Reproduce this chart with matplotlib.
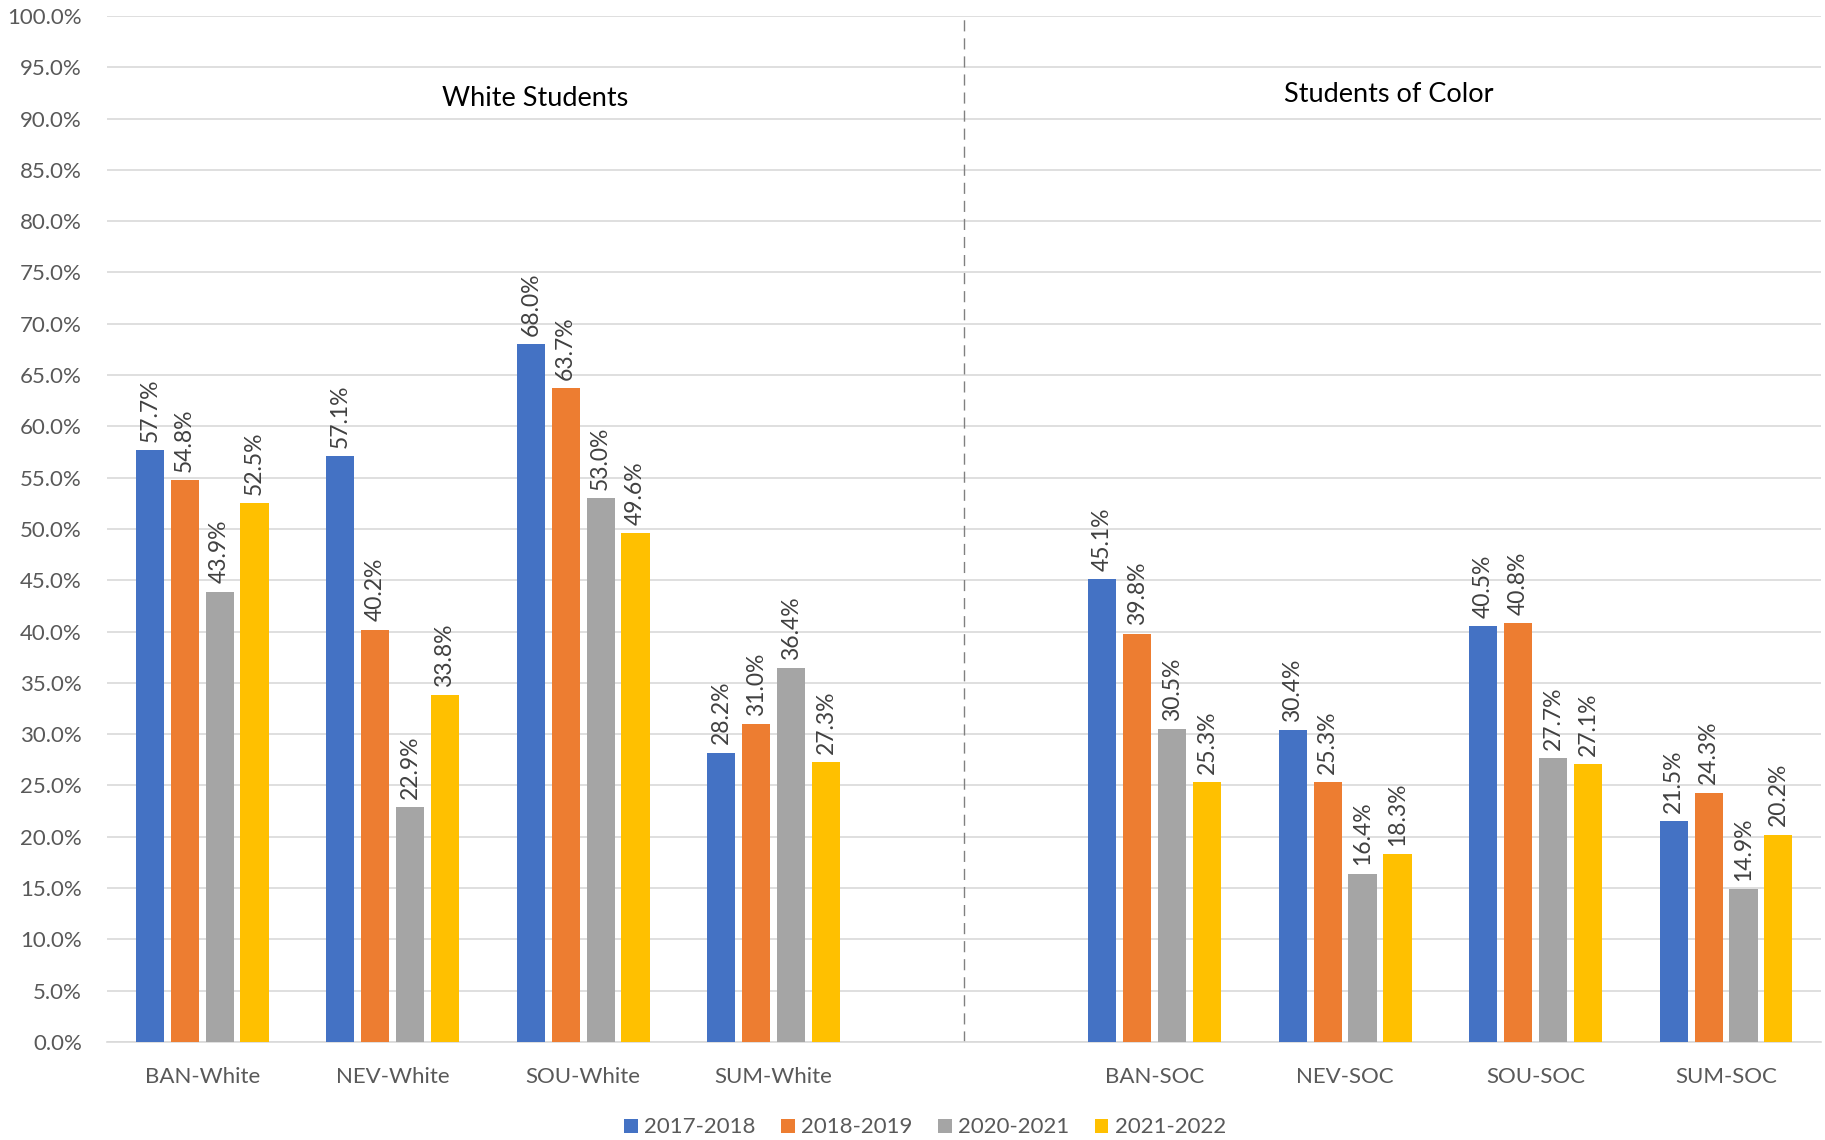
import numpy as np
import matplotlib.pyplot as plt
from matplotlib.ticker import PercentFormatter

# Data
categories = ["BAN-White", "NEV-White", "SOU-White", "SUM-White", "",
              "BAN-SOC", "NEV-SOC", "SOU-SOC", "SUM-SOC"]
years = ["2017-2018", "2018-2019", "2020-2021", "2021-2022"]
v_2017 = [57.7, 57.1, 68.0, 28.2, np.nan, 45.1, 30.4, 40.5, 21.5]
v_2018 = [54.8, 40.2, 63.7, 31.0, np.nan, 39.8, 25.3, 40.8, 24.3]
v_2020 = [43.9, 22.9, 53.0, 36.4, np.nan, 30.5, 16.4, 27.7, 14.9]
v_2021 = [52.5, 33.8, 49.6, 27.3, np.nan, 25.3, 18.3, 27.1, 20.2]
colors = ["#4472C4", "#ED7D31", "#A5A5A5", "#FFC000"]

plt.rcParams['font.family'] = ['Lato', 'DejaVu Sans']

fig = plt.figure(figsize=(18.25, 11.40), dpi=100)
ax = fig.add_axes([0.0586, 0.086, 0.9394, 0.9])

x = np.arange(len(categories))
step = 0.183
width = 0.148
series = [v_2017, v_2018, v_2020, v_2021]
for i, (vals, col, lab) in enumerate(zip(series, colors, years)):
    pos = x + (i - 1.5) * step
    ax.bar(pos, vals, width=width, color=col, label=lab, zorder=3)
    for p, v in zip(pos, vals):
        if np.isnan(v):
            continue
        ax.text(p, v + 0.8, "%.1f%%" % v, rotation=90, ha="center", va="bottom",
                fontsize=16.5, color="#404040")

ax.axvline(4, ymin=0, ymax=1.0, color="#808080", linestyle=(0, (8, 5)), linewidth=1.0, zorder=2)

ax.text(1.75, 92.0, "White Students", ha="center", va="center", fontsize=19.5, color="black")
ax.text(6.23, 92.3, "Students of Color", ha="center", va="center", fontsize=19.5, color="black")

ax.set_xlim(-0.5, 8.5)
ax.set_ylim(0, 100)
ax.set_yticks(np.arange(0, 101, 5))
ax.yaxis.set_major_formatter(PercentFormatter(decimals=1))
ax.set_xticks(x)
ax.set_xticklabels(categories)
ax.tick_params(axis="both", length=0, labelsize=16, labelcolor="#595959")
ax.tick_params(axis="x", pad=18)
ax.tick_params(axis="y", pad=18)
ax.grid(axis="y", color="#D9D9D9", linewidth=1.2, zorder=0)
for s in ["top", "right", "left"]:
    ax.spines[s].set_visible(False)
ax.spines["bottom"].set_color("#D9D9D9")
ax.spines["bottom"].set_linewidth(1.2)

fig.legend(loc="center", bbox_to_anchor=(0.507, 0.011), ncol=4, frameon=False,
           fontsize=16, handlelength=0.6, handleheight=0.6, handletextpad=0.3,
           columnspacing=1.15, labelcolor="#595959")

fig.savefig("out.png", dpi=100)
